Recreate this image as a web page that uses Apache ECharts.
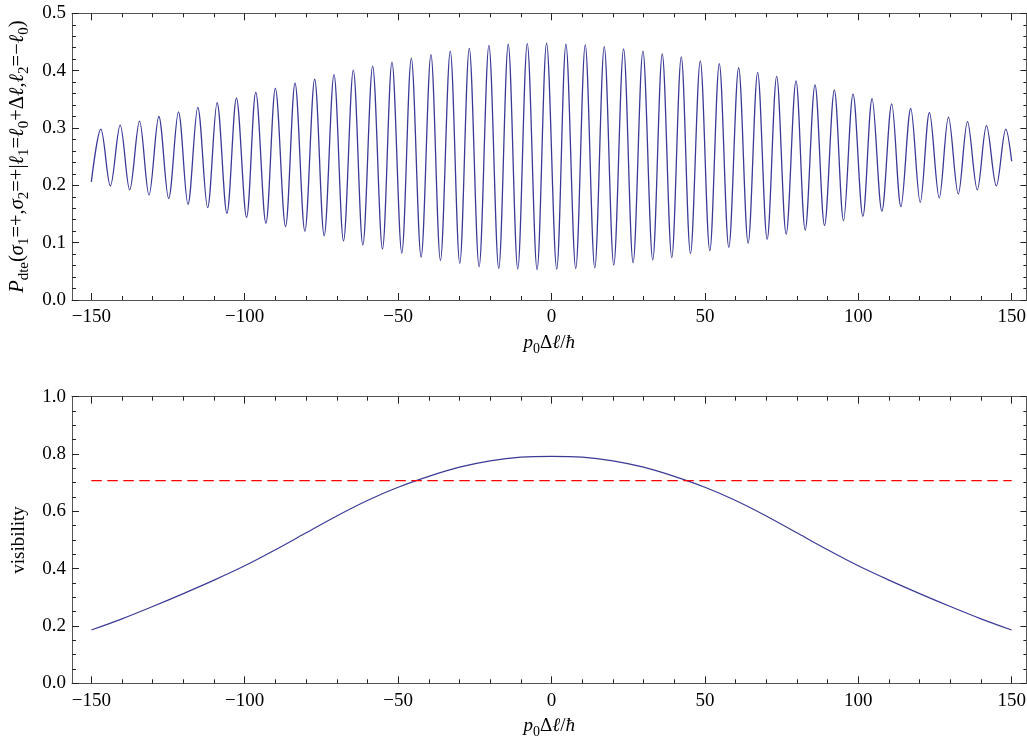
<!DOCTYPE html>
<html><head><meta charset="utf-8">
<script src="https://cdn.jsdelivr.net/npm/echarts@6/dist/echarts.min.js"></script>
<style>html,body{margin:0;padding:0;background:#fff}#c{width:1027px;height:739px}</style>
</head><body><div id="c"></div>
<script>
// ---- data ----
const peakX = [-146.9,-140.6,-134.3,-128.0,-121.6,-115.3,-109.0,-102.7,-96.4,-90.0,-83.6,-77.2,-70.9,-64.6,-58.3,-52.0,-45.7,-39.3,-33.0,-26.8,-20.4,-14.1,-7.9,-1.6,4.7,11.0,17.2,23.5,29.8,36.1,42.3,48.5,54.7,61.0,67.2,73.4,79.7,85.9,92.2,98.3,104.5,110.9,117.1,123.2,129.4,135.6,141.8,148.1];
const peakY = [0.298,0.305,0.312,0.320,0.328,0.336,0.344,0.352,0.362,0.369,0.378,0.385,0.393,0.401,0.408,0.415,0.422,0.428,0.434,0.439,0.444,0.446,0.447,0.448,0.446,0.445,0.442,0.438,0.434,0.429,0.424,0.417,0.412,0.405,0.397,0.390,0.382,0.375,0.366,0.359,0.351,0.342,0.334,0.327,0.319,0.311,0.304,0.298];
const troughX = [-143.8,-137.5,-131.2,-124.8,-118.5,-112.1,-105.8,-99.4,-93.1,-86.7,-80.4,-74.1,-67.8,-61.5,-55.1,-48.8,-42.5,-36.2,-29.9,-23.6,-17.2,-11.0,-4.7,1.7,7.9,14.1,20.3,26.6,33.0,39.2,45.3,51.6,57.8,64.1,70.3,76.5,82.7,89.0,95.2,101.5,107.7,113.9,120.2,126.4,132.6,138.8,145.0];
const troughY = [0.199,0.192,0.183,0.177,0.167,0.161,0.151,0.144,0.134,0.128,0.120,0.112,0.103,0.096,0.089,0.082,0.075,0.069,0.064,0.058,0.055,0.054,0.053,0.054,0.055,0.056,0.061,0.065,0.070,0.074,0.081,0.086,0.092,0.099,0.106,0.115,0.122,0.130,0.138,0.146,0.155,0.163,0.170,0.178,0.185,0.192,0.199];
const curveStart = [-150, 0.206];
const curveEnd = [150, 0.242];

const visX = [-150,-140,-130,-120,-110,-100,-90,-80,-70,-60,-50,-40,-30,-20,-10,0,10,20,30,40,50,60,70,80,90,100,110,120,130,140,150];
const visY = [0.186,0.225,0.268,0.313,0.360,0.410,0.466,0.525,0.584,0.638,0.684,0.722,0.754,0.776,0.789,0.792,0.789,0.776,0.754,0.722,0.684,0.638,0.584,0.525,0.466,0.410,0.360,0.313,0.268,0.225,0.186];
const thresholdX = [-150, 150];
const thresholdY = [0.707, 0.707];

const xMajorTicks = [-150,-100,-50,0,50,100,150];
const xMinorTicks = [-140,-130,-120,-110,-90,-80,-70,-60,-40,-30,-20,-10,10,20,30,40,60,70,80,90,110,120,130,140];

// ---- build ----
const oscData = [curveStart]
  .concat(peakX.map((x,i)=>[x,peakY[i]]))
  .concat(troughX.map((x,i)=>[x,troughY[i]]))
  .concat([curveEnd])
  .sort((a,b)=>a[0]-b[0]);
const visData = visX.map((x,i)=>[x,visY[i]]);
const thrData = thresholdX.map((x,i)=>[x,thresholdY[i]]);

const FONT = 'Liberation Serif';
const FRAME = '#555';
const TICK = '#222';
const XMIN = -156.3, XMAX = 154.8;

const rich = {
  i:{fontStyle:'italic',fontFamily:FONT,fontSize:19,lineHeight:26,color:'#000'},
  n:{fontFamily:FONT,fontSize:19,lineHeight:26,color:'#000'},
  s:{fontFamily:FONT,fontSize:14,verticalAlign:'bottom',color:'#000'}
};
const richY = {
  i:{fontStyle:'italic',fontFamily:FONT,fontSize:20.5,lineHeight:28,color:'#000'},
  n:{fontFamily:FONT,fontSize:20.5,lineHeight:28,color:'#000'},
  s:{fontFamily:FONT,fontSize:15,verticalAlign:'bottom',color:'#000'}
};
const xName = '{i|p}{s|0}{n|Δ}{i|ℓ}{n|/}{i|ħ}';

function xAxes(grid){
  const base = {type:'value', gridIndex:grid, min:XMIN, max:XMAX, splitLine:{show:false}};
  return [
    Object.assign({}, base, {position:'bottom',
      axisLine:{show:true,onZero:false,lineStyle:{color:FRAME,width:1}},
      axisTick:{show:true,inside:true,length:7,customValues:xMajorTicks,lineStyle:{color:TICK}},
      axisLabel:{show:true,customValues:xMajorTicks,margin:8,fontFamily:FONT,fontSize:19,color:'#000',
        formatter:v=>String(v).replace('-','\u2212')},
      name:xName, nameLocation:'middle', nameGap:30,
      nameTextStyle:{fontFamily:FONT,fontSize:19,color:'#000',rich:rich}}),
    Object.assign({}, base, {position:'bottom',
      axisLine:{show:false,onZero:false},
      axisTick:{show:true,inside:true,length:4,customValues:xMinorTicks,lineStyle:{color:TICK}},
      axisLabel:{show:false}}),
    Object.assign({}, base, {position:'top',
      axisLine:{show:true,onZero:false,lineStyle:{color:FRAME,width:1}},
      axisTick:{show:true,inside:true,length:7,customValues:xMajorTicks,lineStyle:{color:TICK}},
      axisLabel:{show:false}}),
    Object.assign({}, base, {position:'top',
      axisLine:{show:false,onZero:false},
      axisTick:{show:true,inside:true,length:4,customValues:xMinorTicks,lineStyle:{color:TICK}},
      axisLabel:{show:false}})
  ];
}
function yAxes(grid, max, interval, minorSplit, name, nameGap, nameRich){
  const base = {type:'value', gridIndex:grid, min:0, max:max, interval:interval, splitLine:{show:false}};
  return [
    Object.assign({}, base, {position:'left',
      axisLine:{show:true,onZero:false,lineStyle:{color:FRAME,width:1}},
      axisTick:{show:true,inside:true,length:7,lineStyle:{color:TICK}},
      minorTick:{show:true,splitNumber:minorSplit,length:4,lineStyle:{color:TICK}},
      axisLabel:{show:true,margin:6,fontFamily:FONT,fontSize:19,color:'#000',formatter:v=>v.toFixed(1)},
      name:name, nameLocation:'middle', nameRotate:90, nameGap:nameGap,
      nameTextStyle:{fontFamily:FONT,fontSize:19,color:'#000',rich:nameRich}}),
    Object.assign({}, base, {position:'right',
      axisLine:{show:true,onZero:false,lineStyle:{color:FRAME,width:1}},
      axisTick:{show:true,inside:true,length:6,lineStyle:{color:TICK}},
      minorTick:{show:true,splitNumber:minorSplit,length:3,lineStyle:{color:TICK}},
      axisLabel:{show:false}})
  ];
}

const topName = '{i|P}{s|dte}{n|(}{i|σ}{s|1}{n|=+,}{i|σ}{s|2}{n|=+|}{i|ℓ}{s|1}{n|=}{i|ℓ}{s|0}{n|+Δ}{i|ℓ}{n|,}{i|ℓ}{s|2}{n|=−}{i|ℓ}{s|0}{n|)}';
const botName = '{n|visibility}';

const option = {
  animation:false,
  backgroundColor:'#fff',
  textStyle:{fontFamily:FONT},
  grid:[
    {left:72, top:13.3, width:954.4, height:286.7, outerBoundsMode:'none', containLabel:false},
    {left:72, top:396.7, width:954.4, height:286.6, outerBoundsMode:'none', containLabel:false}
  ],
  xAxis: xAxes(0).concat(xAxes(1)),
  yAxis: yAxes(0,0.5,0.1,5,topName,40,richY).concat(yAxes(1,1.0,0.2,4,botName,40,rich)),
  series:[
    {type:'line', xAxisIndex:0, yAxisIndex:0, data:oscData, smooth:0.34, showSymbol:false,
      lineStyle:{color:'#3a3a96',width:1.3}},
    {type:'line', xAxisIndex:4, yAxisIndex:2, data:visData, smooth:0.3, showSymbol:false,
      lineStyle:{color:'#3a3a96',width:1.2}},
    {type:'line', xAxisIndex:4, yAxisIndex:2, data:thrData, showSymbol:false,
      lineStyle:{color:'#ff0000',width:1.3,type:[10.5,5.5]}}
  ]
};
const chart = echarts.init(document.getElementById('c'), null, {renderer:'canvas'});
chart.setOption(option);
</script></body></html>
